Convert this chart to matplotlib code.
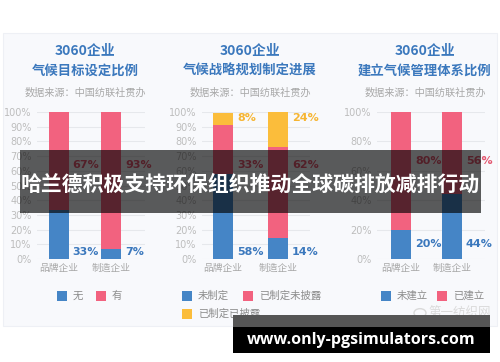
import matplotlib
matplotlib.use("Agg")
import matplotlib.pyplot as plt
from matplotlib.patches import Rectangle, Circle

plt.rcParams['font.family'] = ['Noto Sans CJK SC', 'DejaVu Sans']

W, H = 500, 362

# data
cats = ['品牌企业', '制造企业']
goal_none = [33, 7]
goal_yes = [67, 93]
plan_none = [58, 14]
plan_undisclosed = [33, 62]
plan_disclosed = [8, 24]
sys_none = [20, 44]
sys_yes = [80, 56]

titles = ['气候目标设定比例', '气候战略规划制定进展', '建立气候管理体系比例']
source = '数据来源：中国纺联社贯办'
banner = '哈兰德积极支持环保组织推动全球碳排放减排行动'
site = 'www.only-pgsimulators.com'

BLUE = '#4585c6'
PINK = '#f2627f'
YELLOW = '#fbbd3b'
TBLUE = '#3b78bd'
TPINK = '#e4566f'
TYELLOW = '#f6b532'
GRAY = '#a8a8a8'


def fx(x):
    return x / W


def fy(y):
    return 1 - y / H


fig = plt.figure(figsize=(W / 100, H / 100), dpi=100)
fig.patch.set_facecolor('white')

# card
fig.patches.append(Rectangle((fx(3), fy(326)), fx(494), 293 / H, transform=fig.transFigure,
                             facecolor='#f8f9fc', edgecolor='#eef0f5', lw=0.8, zorder=-1))


def panel(gl, gr, c1, c2, ticks, cx, title, series, colors):
    unit = c2 - c1
    ax = fig.add_axes([fx(gl), fy(259), (gr - gl) / W, 147 / H])
    ax.set_facecolor('none')
    x = [0, 1]
    bottom = [0, 0]
    for vals, col in zip(series, colors):
        ax.bar(x, vals, width=20 / unit, bottom=bottom, color=col, zorder=3)
        bottom = [b + v for b, v in zip(bottom, vals)]
    ax.set_xlim(-(c1 - gl) / unit, 1 + (gr - c2) / unit)
    ax.set_ylim(0, 100)
    ax.set_yticks(ticks)
    ax.set_yticklabels([f'{t}%' for t in ticks], color='#bdbdbd', fontsize=7,
                       family=['DejaVu Sans'])
    ax.set_xticks(x)
    ax.set_xticklabels(cats, color=GRAY, fontsize=7)
    ax.tick_params(length=0, pad=4)
    ax.tick_params(axis='x', pad=3)
    ax.grid(axis='y', color='#e6e8ec', lw=0.8, zorder=0)
    for s in ax.spines.values():
        s.set_visible(False)
    fig.text(fx(cx), fy(51), '3060企业', ha='center', va='center', fontsize=10,
             weight='bold', color=TBLUE)
    fig.text(fx(cx), fy(71), title, ha='center', va='center', fontsize=9.6,
             weight='bold', color=TBLUE)
    fig.text(fx(cx), fy(93), source, ha='center', va='center', fontsize=7.3, color=GRAY)
    return ax, unit


def labels(ax, unit, vals, y, color):
    for i, v in enumerate(vals):
        ax.text(i + 14 / unit, y, f'{v}%', ha='left', va='center', fontsize=8,
                weight='bold', color=color, family=['DejaVu Sans'], zorder=4)


ax1, u1 = panel(37, 145, 58.5, 111, range(0, 101, 10), 85, titles[0],
                [goal_none, goal_yes], [BLUE, PINK])
labels(ax1, u1, goal_yes, 64, TPINK)
labels(ax1, u1, goal_none, 5, TBLUE)

ax2, u2 = panel(202, 310, 223, 278, range(0, 101, 10), 250, titles[1],
                [plan_none, plan_undisclosed, plan_disclosed], [BLUE, PINK, YELLOW])
labels(ax2, u2, plan_disclosed, 96, TYELLOW)
labels(ax2, u2, plan_undisclosed, 64, TPINK)
labels(ax2, u2, plan_none, 5, TBLUE)

ax3, u3 = panel(377, 485, 401, 452, range(0, 101, 20), 425, titles[2],
                [sys_none, sys_yes], [BLUE, PINK])
labels(ax3, u3, sys_yes, 67, TPINK)
labels(ax3, u3, sys_none, 10, TBLUE)


def legend_item(x, y, color, text):
    fig.patches.append(Rectangle((fx(x), fy(y + 5)), 10 / W, 10 / H, transform=fig.transFigure,
                                 facecolor=color, edgecolor='none', zorder=2))
    fig.text(fx(x + 16), fy(y), text, ha='left', va='center', fontsize=7.5, color='#8c8c8c')


legend_item(57, 296, BLUE, '无')
legend_item(96, 296, PINK, '有')
legend_item(182, 296, BLUE, '未制定')
legend_item(243, 296, PINK, '已制定未披露')
legend_item(182, 314, YELLOW, '已制定已披露')
legend_item(381, 296, BLUE, '未建立')
legend_item(437, 296, PINK, '已建立')

# watermark
fig.patches.append(Circle((fx(420), fy(313)), 6 / W, transform=fig.transFigure,
                          facecolor='none', edgecolor='#d9d9d9', lw=1, zorder=2))
fig.text(fx(460), fy(313), '第一纺织网', ha='center', va='center', fontsize=9,
         color='#dadada', zorder=2)

# overlay banner
fig.patches.append(Rectangle((fx(20), fy(213)), 461 / W, 63 / H, transform=fig.transFigure,
                             facecolor='black', alpha=0.64, edgecolor='none', zorder=10))
fig.text(fx(250), fy(184), banner, ha='center', va='center', fontsize=15,
         weight='bold', color='white', zorder=11)

# site banner
fig.patches.append(Rectangle((fx(233), fy(327)), 257 / W, 12 / H, transform=fig.transFigure,
                             facecolor='#555555', edgecolor='none', zorder=10))
fig.patches.append(Rectangle((fx(233), fy(353)), 257 / W, 26 / H, transform=fig.transFigure,
                             facecolor='black', edgecolor='none', zorder=10))
fig.text(fx(361), fy(340), site, ha='center', va='center', fontsize=11.5, weight='bold',
         color='white', family=['Open Sans', 'DejaVu Sans'], zorder=11)

fig.savefig('out.png', dpi=100)
